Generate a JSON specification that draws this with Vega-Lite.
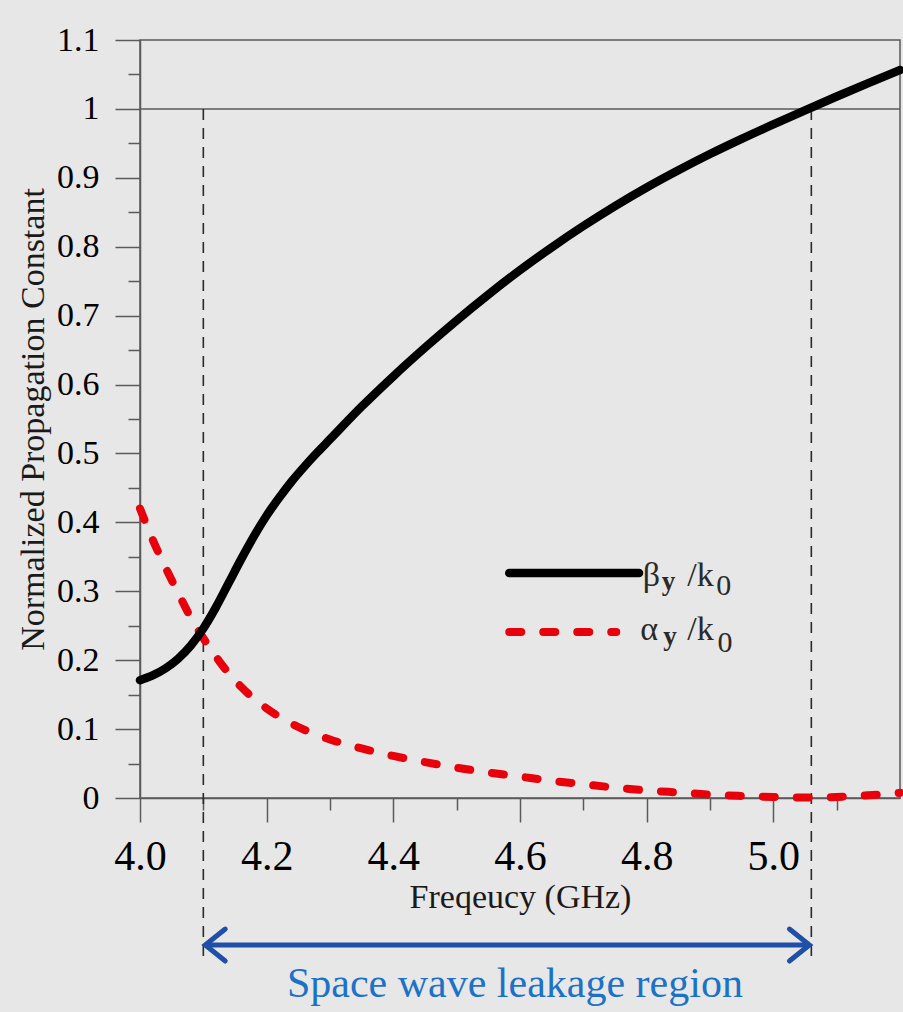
{
  "$schema": "https://vega.github.io/schema/vega-lite/v6.json",
  "width": 760,
  "height": 758,
  "autosize": {"type": "none"},
  "padding": {"left": 140, "top": 40, "right": 3, "bottom": 214},
  "background": "#e7e7e7",
  "config": {
    "view": {"stroke": "#5a5a5a", "strokeWidth": 1.5},
    "font": "Liberation Serif"
  },
  "data": {"values": [{}]},
  "datasets": {
    "beta": [
      {"f": 4.00, "v": 0.171}, {"f": 4.02, "v": 0.178}, {"f": 4.04, "v": 0.188},
      {"f": 4.06, "v": 0.202}, {"f": 4.08, "v": 0.221}, {"f": 4.10, "v": 0.246},
      {"f": 4.12, "v": 0.277}, {"f": 4.14, "v": 0.312}, {"f": 4.16, "v": 0.347},
      {"f": 4.18, "v": 0.380}, {"f": 4.20, "v": 0.410}, {"f": 4.22, "v": 0.436},
      {"f": 4.24, "v": 0.460}, {"f": 4.26, "v": 0.4815}, {"f": 4.28, "v": 0.5015},
      {"f": 4.30, "v": 0.5205}, {"f": 4.35, "v": 0.568}, {"f": 4.40, "v": 0.612},
      {"f": 4.45, "v": 0.6535}, {"f": 4.50, "v": 0.693}, {"f": 4.55, "v": 0.7305},
      {"f": 4.60, "v": 0.766}, {"f": 4.65, "v": 0.799}, {"f": 4.70, "v": 0.830},
      {"f": 4.75, "v": 0.859}, {"f": 4.80, "v": 0.886}, {"f": 4.85, "v": 0.911},
      {"f": 4.90, "v": 0.9345}, {"f": 4.95, "v": 0.9565}, {"f": 5.00, "v": 0.9775},
      {"f": 5.05, "v": 0.998}, {"f": 5.10, "v": 1.018}, {"f": 5.15, "v": 1.0375},
      {"f": 5.20, "v": 1.0565}
    ],
    "alpha": [
      {"f": 4.00, "v": 0.420}, {"f": 4.02, "v": 0.375}, {"f": 4.04, "v": 0.335},
      {"f": 4.06, "v": 0.298}, {"f": 4.08, "v": 0.262}, {"f": 4.10, "v": 0.232},
      {"f": 4.12, "v": 0.205}, {"f": 4.14, "v": 0.181}, {"f": 4.16, "v": 0.161},
      {"f": 4.18, "v": 0.144}, {"f": 4.20, "v": 0.130}, {"f": 4.25, "v": 0.103},
      {"f": 4.30, "v": 0.085}, {"f": 4.35, "v": 0.072}, {"f": 4.40, "v": 0.061},
      {"f": 4.45, "v": 0.052}, {"f": 4.50, "v": 0.044}, {"f": 4.55, "v": 0.037},
      {"f": 4.60, "v": 0.031}, {"f": 4.65, "v": 0.025}, {"f": 4.70, "v": 0.020},
      {"f": 4.75, "v": 0.015}, {"f": 4.80, "v": 0.011}, {"f": 4.85, "v": 0.008},
      {"f": 4.90, "v": 0.005}, {"f": 4.95, "v": 0.003}, {"f": 5.00, "v": 0.0015},
      {"f": 5.05, "v": 0.0008}, {"f": 5.10, "v": 0.0015}, {"f": 5.15, "v": 0.004},
      {"f": 5.20, "v": 0.0075}
    ]
  },
  "resolve": {"axis": {"x": "independent", "y": "independent"}},
  "layer": [
    {
      "data": {"name": "beta"},
      "transform": [{"filter": "datum.f < 0"}],
      "mark": {"type": "rule", "color": "#5a5a5a", "strokeWidth": 1.5},
      "encoding": {
        "x": {
          "field": "f", "type": "quantitative",
          "scale": {"domain": [4.0, 5.2], "nice": false, "zero": false},
          "axis": {
            "orient": "bottom",
            "title": "Freqeucy (GHz)",
            "values": [4.0, 4.2, 4.4, 4.6, 4.8, 5.0],
            "format": ".1f",
            "tickSize": 24,
            "tickColor": "#5a5a5a", "tickWidth": 1.5,
            "domainColor": "#5a5a5a", "domainWidth": 1.5,
            "grid": false,
            "labelFont": "Liberation Serif", "labelFontSize": 42, "labelColor": "#000",
            "labelPadding": 14, "labelFlush": false, "labelOverlap": false,
            "titleFont": "Liberation Serif", "titleFontSize": 34, "titleFontWeight": "normal",
            "titleColor": "#1a1a1a", "titlePadding": 3
          }
        },
        "y": {
          "field": "v", "type": "quantitative",
          "scale": {"domain": [0, 1.1], "nice": false, "zero": false},
          "axis": {
            "orient": "left",
            "title": "Normalized Propagation Constant",
            "values": [0, 0.1, 0.2, 0.3, 0.4, 0.5, 0.6, 0.7, 0.8, 0.9, 1, 1.1],
            "format": "~g",
            "tickSize": 25,
            "tickColor": "#5a5a5a", "tickWidth": 1.5,
            "domainColor": "#5a5a5a", "domainWidth": 1.5,
            "grid": false,
            "labelFont": "Liberation Serif", "labelFontSize": 34, "labelColor": "#000",
            "labelPadding": 16, "labelFlush": false, "labelOverlap": false,
            "titleFont": "Liberation Serif", "titleFontSize": 34, "titleFontWeight": "normal",
            "titleColor": "#1a1a1a", "titlePadding": 6
          }
        }
      }
    },
    {
      "data": {"name": "beta"},
      "transform": [{"filter": "datum.f < 0"}],
      "mark": {"type": "rule", "color": "#5a5a5a", "strokeWidth": 1.5},
      "encoding": {
        "x": {
          "field": "f", "type": "quantitative",
          "axis": {
            "orient": "bottom", "title": null,
            "values": [4.1, 4.3, 4.5, 4.7, 4.9, 5.1],
            "labels": false, "domain": false, "grid": false,
            "tickSize": 12, "tickColor": "#5a5a5a", "tickWidth": 1.5
          }
        },
        "y": {
          "field": "v", "type": "quantitative",
          "axis": {
            "orient": "left", "title": null,
            "values": [0.05, 0.15, 0.25, 0.35, 0.45, 0.55, 0.65, 0.75, 0.85, 0.95, 1.05],
            "labels": false, "domain": false, "grid": false,
            "tickSize": 12, "tickColor": "#5a5a5a", "tickWidth": 1.5
          }
        }
      }
    },
    {
      "mark": {"type": "rule", "color": "#5a5a5a", "strokeWidth": 1.5},
      "encoding": {"y": {"datum": 1, "type": "quantitative", "axis": null}}
    },
    {
      "mark": {"type": "rule", "color": "#2a2a2a", "strokeWidth": 1.6, "strokeDash": [11, 8]},
      "encoding": {
        "x": {"datum": 4.1, "type": "quantitative", "axis": null},
        "y": {"datum": 1, "type": "quantitative", "axis": null},
        "y2": {"datum": -0.23}
      }
    },
    {
      "mark": {"type": "rule", "color": "#2a2a2a", "strokeWidth": 1.6, "strokeDash": [11, 8]},
      "encoding": {
        "x": {"datum": 5.06, "type": "quantitative", "axis": null},
        "y": {"datum": 1, "type": "quantitative", "axis": null},
        "y2": {"datum": -0.23}
      }
    },
    {
      "data": {"name": "alpha"},
      "mark": {"type": "line", "color": "#e8000b", "strokeWidth": 8, "strokeDash": [12, 22], "strokeCap": "round", "interpolate": "monotone"},
      "encoding": {
        "x": {"field": "f", "type": "quantitative", "axis": null},
        "y": {"field": "v", "type": "quantitative", "axis": null}
      }
    },
    {
      "data": {"name": "beta"},
      "mark": {"type": "line", "color": "#000", "strokeWidth": 8.5, "strokeCap": "round", "interpolate": "monotone"},
      "encoding": {
        "x": {"field": "f", "type": "quantitative", "axis": null},
        "y": {"field": "v", "type": "quantitative", "axis": null}
      }
    },
    {
      "mark": {"type": "rule", "color": "#000", "strokeWidth": 8.5, "strokeCap": "round"},
      "encoding": {
        "x": {"datum": 4.583, "type": "quantitative", "axis": null},
        "x2": {"datum": 4.788},
        "y": {"datum": 0.3265, "type": "quantitative", "axis": null}
      }
    },
    {
      "mark": {"type": "rule", "color": "#e8000b", "strokeWidth": 8, "strokeDash": [12, 22], "strokeCap": "round"},
      "encoding": {
        "x": {"datum": 4.583, "type": "quantitative", "axis": null},
        "x2": {"datum": 4.752},
        "y": {"datum": 0.2409, "type": "quantitative", "axis": null}
      }
    },
    {
      "mark": {"type": "text", "text": "β", "font": "Liberation Serif", "fontSize": 34, "align": "left", "baseline": "alphabetic", "color": "#2a2a2a"},
      "encoding": {
        "x": {"datum": 4.794, "type": "quantitative", "axis": null},
        "y": {"datum": 0.3077, "type": "quantitative", "axis": null}
      }
    },
    {
      "mark": {"type": "text", "text": "y", "font": "Liberation Serif", "fontSize": 27, "fontWeight": "bold", "align": "left", "baseline": "alphabetic", "color": "#2a2a2a"},
      "encoding": {
        "x": {"datum": 4.824, "type": "quantitative", "axis": null},
        "y": {"datum": 0.3018, "type": "quantitative", "axis": null}
      }
    },
    {
      "mark": {"type": "text", "text": "/k", "font": "Liberation Serif", "fontSize": 34, "align": "left", "baseline": "alphabetic", "color": "#2a2a2a"},
      "encoding": {
        "x": {"datum": 4.864, "type": "quantitative", "axis": null},
        "y": {"datum": 0.3077, "type": "quantitative", "axis": null}
      }
    },
    {
      "mark": {"type": "text", "text": "0", "font": "Liberation Serif", "fontSize": 30, "align": "left", "baseline": "alphabetic", "color": "#2a2a2a"},
      "encoding": {
        "x": {"datum": 4.91, "type": "quantitative", "axis": null},
        "y": {"datum": 0.2946, "type": "quantitative", "axis": null}
      }
    },
    {
      "mark": {"type": "text", "text": "α", "font": "Liberation Serif", "fontSize": 34, "align": "left", "baseline": "alphabetic", "color": "#2a2a2a"},
      "encoding": {
        "x": {"datum": 4.79, "type": "quantitative", "axis": null},
        "y": {"datum": 0.2293, "type": "quantitative", "axis": null}
      }
    },
    {
      "mark": {"type": "text", "text": "y", "font": "Liberation Serif", "fontSize": 27, "fontWeight": "bold", "align": "left", "baseline": "alphabetic", "color": "#2a2a2a"},
      "encoding": {
        "x": {"datum": 4.826, "type": "quantitative", "axis": null},
        "y": {"datum": 0.222, "type": "quantitative", "axis": null}
      }
    },
    {
      "mark": {"type": "text", "text": "/k", "font": "Liberation Serif", "fontSize": 34, "align": "left", "baseline": "alphabetic", "color": "#2a2a2a"},
      "encoding": {
        "x": {"datum": 4.864, "type": "quantitative", "axis": null},
        "y": {"datum": 0.2293, "type": "quantitative", "axis": null}
      }
    },
    {
      "mark": {"type": "text", "text": "0", "font": "Liberation Serif", "fontSize": 30, "align": "left", "baseline": "alphabetic", "color": "#2a2a2a"},
      "encoding": {
        "x": {"datum": 4.912, "type": "quantitative", "axis": null},
        "y": {"datum": 0.2119, "type": "quantitative", "axis": null}
      }
    },
    {
      "mark": {"type": "rule", "color": "#1f4fa6", "strokeWidth": 5},
      "encoding": {
        "x": {"datum": 4.104, "type": "quantitative", "axis": null},
        "x2": {"datum": 5.056},
        "y": {"datum": -0.2134, "type": "quantitative", "axis": null}
      }
    },
    {
      "mark": {"type": "point", "shape": "M 1.25 -1 L 0 0 L 1.25 1", "size": 1024, "filled": false, "stroke": "#1f4fa6", "strokeWidth": 5, "strokeCap": "round", "opacity": 1},
      "encoding": {
        "x": {"datum": 4.103, "type": "quantitative", "axis": null},
        "y": {"datum": -0.2134, "type": "quantitative", "axis": null}
      }
    },
    {
      "mark": {"type": "point", "shape": "M -1.25 -1 L 0 0 L -1.25 1", "size": 1024, "filled": false, "stroke": "#1f4fa6", "strokeWidth": 5, "strokeCap": "round", "opacity": 1},
      "encoding": {
        "x": {"datum": 5.057, "type": "quantitative", "axis": null},
        "y": {"datum": -0.2134, "type": "quantitative", "axis": null}
      }
    },
    {
      "mark": {"type": "text", "text": "Space wave leakage region", "font": "Liberation Serif", "fontSize": 42, "align": "center", "baseline": "alphabetic", "color": "#1b72c6"},
      "encoding": {
        "x": {"datum": 4.592, "type": "quantitative", "axis": null},
        "y": {"datum": -0.2888, "type": "quantitative", "axis": null}
      }
    }
  ]
}
